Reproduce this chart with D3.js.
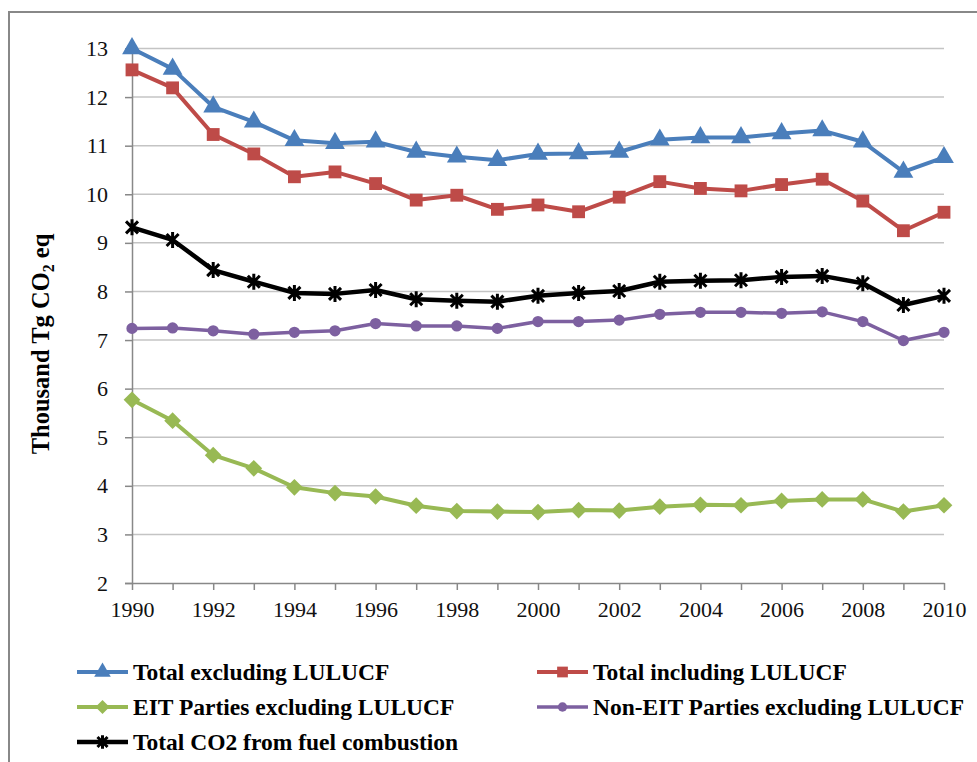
<!DOCTYPE html>
<html>
<head>
<meta charset="utf-8">
<script src="https://d3js.org/d3.v7.min.js"></script>
<style>
  body { margin: 0; background: #fff; }
</style>
</head>
<body>
<div id="chart"></div>
<script>
// data
var years = d3.range(1990, 2011);
var totalExcl = [13.0, 12.58, 11.8, 11.49, 11.11, 11.05, 11.08, 10.87, 10.77, 10.70, 10.83, 10.84, 10.87, 11.12, 11.17, 11.17, 11.25, 11.31, 11.08, 10.46, 10.76];
var totalIncl = [12.56, 12.19, 11.23, 10.83, 10.36, 10.46, 10.22, 9.88, 9.98, 9.69, 9.78, 9.64, 9.94, 10.26, 10.12, 10.07, 10.20, 10.31, 9.86, 9.25, 9.63];
var eitExcl = [5.77, 5.34, 4.63, 4.36, 3.97, 3.85, 3.78, 3.59, 3.48, 3.47, 3.46, 3.50, 3.49, 3.57, 3.61, 3.60, 3.69, 3.72, 3.72, 3.47, 3.60];
var nonEitExcl = [7.24, 7.25, 7.19, 7.12, 7.16, 7.19, 7.34, 7.29, 7.29, 7.24, 7.38, 7.38, 7.41, 7.53, 7.57, 7.57, 7.55, 7.58, 7.38, 6.99, 7.16];
var co2Fuel = [9.32, 9.06, 8.44, 8.20, 7.97, 7.95, 8.03, 7.84, 7.81, 7.79, 7.91, 7.97, 8.01, 8.20, 8.22, 8.23, 8.30, 8.32, 8.17, 7.72, 7.91];
var yTicks = [2, 3, 4, 5, 6, 7, 8, 9, 10, 11, 12, 13];
var xTicks = [1990, 1992, 1994, 1996, 1998, 2000, 2002, 2004, 2006, 2008, 2010];

var series = [
  {name: "Total excluding LULUCF", values: totalExcl, color: "#4a7ebb", marker: "triangle", width: 4},
  {name: "Total including LULUCF", values: totalIncl, color: "#be4b48", marker: "square", width: 4},
  {name: "EIT Parties excluding LULUCF", values: eitExcl, color: "#98b954", marker: "diamond", width: 4},
  {name: "Non-EIT Parties excluding LULUCF", values: nonEitExcl, color: "#7d60a0", marker: "circle", width: 3.5},
  {name: "Total CO2 from fuel combustion", values: co2Fuel, color: "#000000", marker: "star", width: 4.5}
];

var FONT = "'Liberation Serif', 'Times New Roman', Times, serif";
var W = 977, H = 762;
var svg = d3.select("#chart")
  .append("svg")
    .attr("width", W)
    .attr("height", H)
    .style("font-family", FONT);

// outer chart frame (runs off the right and bottom edge)
svg.append("rect")
  .attr("x", 9).attr("y", 12)
  .attr("width", 1100).attr("height", 900)
  .attr("fill", "#fff")
  .attr("stroke", "#888")
  .attr("stroke-width", 2);

var x = d3.scaleLinear().domain([1990, 2010]).range([132, 944]);
var y = d3.scaleLinear().domain([2, 13]).range([583, 48.5]);

// horizontal gridlines
svg.append("g")
  .selectAll("line")
  .data(yTicks.slice(1))
  .enter().append("line")
    .attr("x1", x(1990)).attr("x2", x(2010))
    .attr("y1", function(d) { return y(d); })
    .attr("y2", function(d) { return y(d); })
    .attr("stroke", "#c4c4c4")
    .attr("stroke-width", 1.5);

// y axis
var yAxis = svg.append("g")
  .attr("transform", "translate(" + x(1990) + ",0)")
  .call(d3.axisLeft(y).tickValues(yTicks).tickSize(7).tickPadding(17).tickFormat(d3.format("d")));
yAxis.attr("font-family", null);
yAxis.select(".domain").attr("stroke", "#888").attr("stroke-width", 1.5);
yAxis.selectAll(".tick line").attr("stroke", "#888").attr("stroke-width", 1.5);
yAxis.selectAll("text").style("font-size", "22px").style("font-family", FONT).attr("fill", "#111");

// x axis
var xAxis = svg.append("g")
  .attr("transform", "translate(0," + y(2) + ")")
  .call(d3.axisBottom(x).tickValues(years).tickSize(7).tickSizeOuter(0).tickFormat(function(d) {
    return xTicks.indexOf(d) >= 0 ? d : "";
  }).tickPadding(11));
xAxis.attr("font-family", null);
xAxis.select(".domain").attr("stroke", "#888").attr("stroke-width", 1.5);
xAxis.selectAll(".tick line").attr("stroke", "#888").attr("stroke-width", 1.5);
xAxis.selectAll("text").style("font-size", "22px").style("font-family", FONT).attr("fill", "#111");

// y axis title
var ttl = svg.append("text")
  .attr("transform", "translate(49,344) rotate(-90)")
  .attr("text-anchor", "middle")
  .style("font-family", FONT)
  .style("font-size", "24.5px")
  .style("font-weight", "bold");
ttl.append("tspan").text("Thousand Tg CO");
ttl.append("tspan").text("2").style("font-size", "16px").attr("dy", 5);
ttl.append("tspan").text(" eq").attr("dy", -5);

// marker shapes
function markerPath(type, s) {
  if (type == "triangle") return d3.symbol().type(d3.symbolTriangle).size(170 * s)();
  if (type == "square") return d3.symbol().type(d3.symbolSquare).size(165 * s)();
  if (type == "diamond") return d3.symbol().type(d3.symbolSquare).size(140 * s)();
  if (type == "circle") return d3.symbol().type(d3.symbolCircle).size(100 * s)();
  // star: an X plus a vertical stroke
  var r = 8 * Math.sqrt(s), q = r * 0.75;
  return "M" + (-q) + "," + (-q) + "L" + q + "," + q +
         "M" + (-q) + "," + q + "L" + q + "," + (-q) +
         "M0," + (-r) + "L0," + r;
}

function drawMarker(g, d, s) {
  var m = g.append("path")
    .attr("d", markerPath(d.marker, s));
  if (d.marker == "star") {
    m.attr("fill", "none").attr("stroke", d.color).attr("stroke-width", 3);
  } else {
    m.attr("fill", d.color);
  }
  if (d.marker == "diamond") m.attr("transform", "rotate(45)");
  return m;
}

var line = d3.line()
  .x(function(d, i) { return x(years[i]); })
  .y(function(d) { return y(d); });

// lines and markers
series.forEach(function(s) {
  svg.append("path")
    .datum(s.values)
    .attr("d", line)
    .attr("fill", "none")
    .attr("stroke", s.color)
    .attr("stroke-width", s.width)
    .attr("stroke-linejoin", "round");

  svg.append("g")
    .selectAll("g")
    .data(s.values)
    .enter().append("g")
      .attr("transform", function(d, i) { return "translate(" + x(years[i]) + "," + y(d) + ")"; })
      .each(function() { drawMarker(d3.select(this), s, 1); });
});

// legend
var legendPos = [[77, 672], [537, 672], [77, 707], [537, 707], [77, 742]];
var legend = svg.append("g")
  .selectAll("g")
  .data(series)
  .enter().append("g")
    .attr("transform", function(d, i) { return "translate(" + legendPos[i][0] + "," + legendPos[i][1] + ")"; });

legend.append("line")
  .attr("x1", 0).attr("x2", 51)
  .attr("stroke", function(d) { return d.color; })
  .attr("stroke-width", function(d) { return d.width; });

legend.append("g")
  .attr("transform", "translate(25.5,0)")
  .each(function(d) { drawMarker(d3.select(this), d, 0.7); });

legend.append("text")
  .attr("x", 56)
  .attr("dy", "0.33em")
  .style("font-family", FONT)
  .style("font-size", "23.5px")
  .style("font-weight", "bold")
  .text(function(d) { return d.name; });
</script>
</body>
</html>
